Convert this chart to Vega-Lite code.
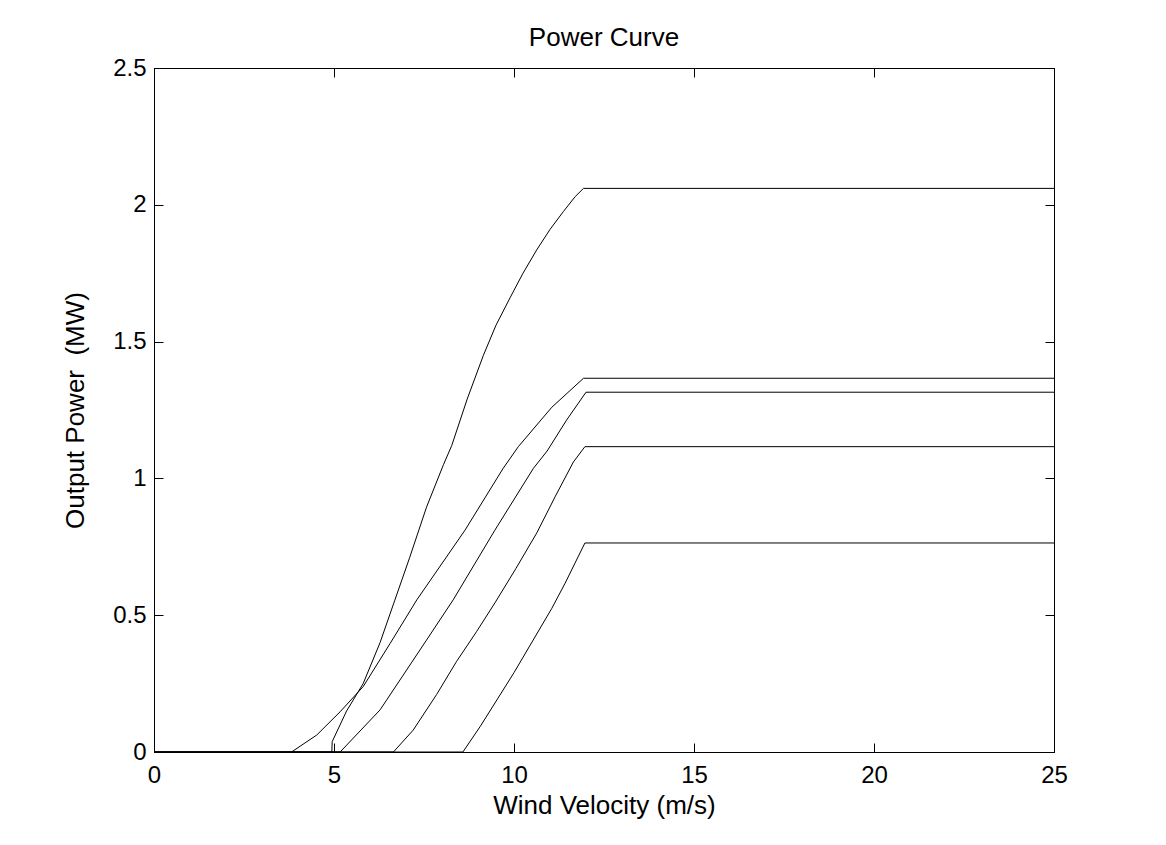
{
  "$schema": "https://vega.github.io/schema/vega-lite/v6.json",
  "width": 900,
  "height": 684,
  "autosize": {"type": "none"},
  "padding": {"left": 154, "top": 68, "right": 112, "bottom": 93},
  "background": "white",
  "title": {"text": "Power Curve", "fontSize": 26, "fontWeight": "normal", "font": "Liberation Sans", "color": "black", "baseline": "alphabetic", "offset": -16, "anchor": "middle"},
  "config": {
    "view": {"stroke": "black", "strokeWidth": 1},
    "axis": {"domainColor": "black", "tickColor": "black", "labelColor": "black", "titleColor": "black", "labelFont": "Liberation Sans", "titleFont": "Liberation Sans", "labelFontSize": 24, "titleFontSize": 26, "titleFontWeight": "normal", "grid": false, "tickSize": -9, "tickWidth": 1}
  },
  "data": {"values": [
    {"t": "A", "v": 0, "p": 0}, {"t": "A", "v": 4.94, "p": 0}, {"t": "A", "v": 4.95, "p": 0.038}, {"t": "A", "v": 5.35, "p": 0.15}, {"t": "A", "v": 5.81, "p": 0.25}, {"t": "A", "v": 6.28, "p": 0.4}, {"t": "A", "v": 6.69, "p": 0.555}, {"t": "A", "v": 7.1, "p": 0.71}, {"t": "A", "v": 7.57, "p": 0.895}, {"t": "A", "v": 8.04, "p": 1.05}, {"t": "A", "v": 8.27, "p": 1.12}, {"t": "A", "v": 8.7, "p": 1.29}, {"t": "A", "v": 9.15, "p": 1.45}, {"t": "A", "v": 9.5, "p": 1.56}, {"t": "A", "v": 9.89, "p": 1.66}, {"t": "A", "v": 10.25, "p": 1.75}, {"t": "A", "v": 10.63, "p": 1.835}, {"t": "A", "v": 11.0, "p": 1.91}, {"t": "A", "v": 11.37, "p": 1.975}, {"t": "A", "v": 11.7, "p": 2.03}, {"t": "A", "v": 11.93, "p": 2.06}, {"t": "A", "v": 25, "p": 2.06},
    {"t": "B", "v": 0, "p": 0}, {"t": "B", "v": 3.82, "p": 0}, {"t": "B", "v": 4.52, "p": 0.062}, {"t": "B", "v": 5.17, "p": 0.147}, {"t": "B", "v": 5.81, "p": 0.239}, {"t": "B", "v": 6.56, "p": 0.397}, {"t": "B", "v": 7.3, "p": 0.556}, {"t": "B", "v": 8.64, "p": 0.811}, {"t": "B", "v": 9.7, "p": 1.037}, {"t": "B", "v": 10.12, "p": 1.116}, {"t": "B", "v": 11.05, "p": 1.26}, {"t": "B", "v": 11.93, "p": 1.366}, {"t": "B", "v": 25, "p": 1.366},
    {"t": "C", "v": 0, "p": 0}, {"t": "C", "v": 5.17, "p": 0}, {"t": "C", "v": 6.28, "p": 0.154}, {"t": "C", "v": 7.57, "p": 0.409}, {"t": "C", "v": 8.31, "p": 0.556}, {"t": "C", "v": 9.47, "p": 0.811}, {"t": "C", "v": 10.54, "p": 1.037}, {"t": "C", "v": 10.92, "p": 1.1}, {"t": "C", "v": 11.46, "p": 1.213}, {"t": "C", "v": 12.0, "p": 1.315}, {"t": "C", "v": 25, "p": 1.315},
    {"t": "D", "v": 0, "p": 0}, {"t": "D", "v": 6.65, "p": 0}, {"t": "D", "v": 7.2, "p": 0.08}, {"t": "D", "v": 7.85, "p": 0.21}, {"t": "D", "v": 8.4, "p": 0.33}, {"t": "D", "v": 8.96, "p": 0.44}, {"t": "D", "v": 9.47, "p": 0.545}, {"t": "D", "v": 10.05, "p": 0.67}, {"t": "D", "v": 10.63, "p": 0.8}, {"t": "D", "v": 11.15, "p": 0.935}, {"t": "D", "v": 11.65, "p": 1.06}, {"t": "D", "v": 11.97, "p": 1.116}, {"t": "D", "v": 25, "p": 1.116},
    {"t": "E", "v": 0, "p": 0}, {"t": "E", "v": 8.58, "p": 0}, {"t": "E", "v": 9.06, "p": 0.093}, {"t": "E", "v": 10.0, "p": 0.29}, {"t": "E", "v": 11.05, "p": 0.525}, {"t": "E", "v": 11.42, "p": 0.617}, {"t": "E", "v": 11.97, "p": 0.764}, {"t": "E", "v": 25, "p": 0.764}
  ]},
  "layer": [
    {
      "mark": {"type": "line", "color": "black", "strokeWidth": 1},
      "encoding": {
        "x": {"field": "v", "type": "quantitative", "scale": {"domain": [0, 25], "nice": false, "zero": true}, "axis": {"title": "Wind Velocity (m/s)", "values": [0, 5, 10, 15, 20, 25], "format": "~g", "labelPadding": 20, "titlePadding": 5, "labelFlush": false, "labelOverlap": false}},
        "y": {"field": "p", "type": "quantitative", "scale": {"domain": [0, 2.5], "nice": false}, "axis": {"title": "Output Power\u00a0 (MW)", "values": [0, 0.5, 1, 1.5, 2, 2.5], "format": "~g", "labelPadding": 17, "titlePadding": 24, "labelFlush": false, "labelOverlap": false}},
        "detail": {"field": "t", "type": "nominal"},
        "order": {"field": "v", "type": "quantitative"}
      }
    },
    {
      "mark": {"type": "line", "opacity": 0},
      "encoding": {
        "x": {"field": "v", "type": "quantitative", "scale": {"domain": [0, 25], "nice": false}, "axis": {"orient": "top", "title": null, "labels": false, "values": [0, 5, 10, 15, 20, 25]}},
        "y": {"field": "p", "type": "quantitative", "scale": {"domain": [0, 2.5], "nice": false}, "axis": {"orient": "right", "title": null, "labels": false, "values": [0, 0.5, 1, 1.5, 2, 2.5]}},
        "detail": {"field": "t", "type": "nominal"}
      }
    }
  ],
  "resolve": {"axis": {"x": "independent", "y": "independent"}}
}
